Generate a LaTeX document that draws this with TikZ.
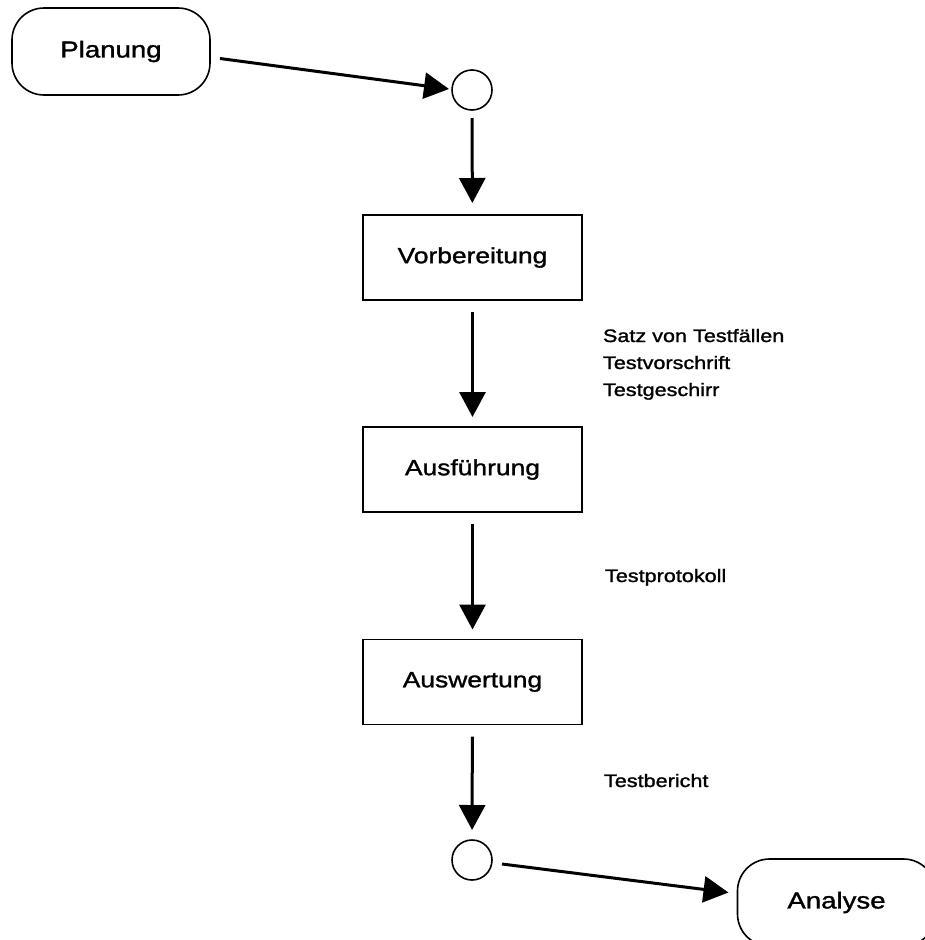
\documentclass[tikz,border=0pt]{standalone}
\usepackage{fontspec}
\setmainfont{Liberation Sans}[FakeStretch=1.2,FakeBold=1.4]
\usetikzlibrary{arrows.meta}
\begin{document}
\begin{tikzpicture}[x=1pt,y=-1pt,
  every node/.style={inner sep=0pt, outer sep=0pt},
  term/.style={draw, line width=1.6pt, rounded corners=32pt,
    minimum width=198pt, minimum height=87pt,
    font=\fontsize{23}{27}\selectfont},
  stage/.style={draw, line width=1.5pt,
    minimum width=219pt, minimum height=85pt,
    font=\fontsize{22}{26}\selectfont},
  junction/.style={draw, circle, line width=1.6pt, minimum size=40pt},
  flow/.style={line width=3pt, -{Triangle[length=25pt,width=26pt]}},
  vflow/.style={flow, shorten <=12pt, shorten >=10pt},
  artefact/.style={anchor=base west, font=\fontsize{18}{22}\selectfont}]

\useasboundingbox (0,0) rectangle (925,940);
\fill[white] (0,0) rectangle (925,940);

% process chain
\node[term]     (plan) at (111,51.5)   {Planung};
\node[junction] (j1)   at (472,90)     {};
\node[stage]    (vor)  at (472.5,257.5) {Vorbereitung};
\node[stage]    (aus)  at (472.5,469.5) {Ausführung};
\node[stage]    (ausw) at (472.5,682)   {Auswertung};
\node[junction] (j2)   at (472,860)    {};
\node[term]     (ana)  at (836.5,902.5) {Analyse};

% connectors
\draw[flow] ([xshift=10pt,yshift=-7pt]plan.east) -- ([xshift=-3pt,yshift=1pt]j1.west);
\draw[flow, shorten <=8pt, shorten >=12pt] (j1) -- (vor);
\draw[vflow] (vor) -- (aus);
\draw[vflow] (aus) -- (ausw);
\draw[vflow] (ausw) -- (j2);
\draw[flow] ([xshift=10pt,yshift=-4pt]j2.east) -- ([xshift=-9pt,yshift=10pt]ana.west);

% work products
\node[artefact] (l1) at (603,342) {Satz von Testfällen};
\node[artefact] (l2) at (603,369) {Testvorschrift};
\node[artefact] (l3) at (603,396) {Testgeschirr};
\node[artefact] (l4) at (605,582) {Testprotokoll};
\node[artefact] (l5) at (604,787) {Testbericht};
\end{tikzpicture}
\end{document}
